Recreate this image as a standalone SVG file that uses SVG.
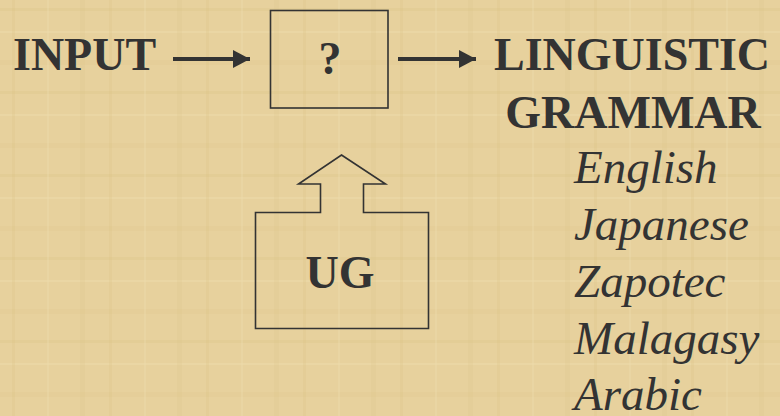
<svg xmlns="http://www.w3.org/2000/svg" width="780" height="416" viewBox="0 0 780 416">
<defs>
<style>
.t{font-family:"Liberation Serif","Times New Roman",serif;fill:#333333;font-size:46px}
.b{font-weight:bold}
.i{font-style:italic;font-size:47px}
.box{fill:none;stroke:#333333;stroke-width:1.6}
.con{stroke:#333333;stroke-width:4;fill:none}
</style>
<marker id="ah" markerUnits="userSpaceOnUse" markerWidth="20" markerHeight="20" refX="17" refY="9" orient="auto">
<path d="M0,0 L17,9 L0,18 Z" fill="#333333"/>
</marker>
<pattern id="pap" width="97" height="83" patternUnits="userSpaceOnUse">
<rect width="97" height="83" fill="#e7d19d"/>
<rect x="0" y="8" width="97" height="3" fill="#d9bf80" opacity="0.25"/>
<rect x="0" y="31" width="97" height="2" fill="#f0dfb2" opacity="0.35"/>
<rect x="0" y="60" width="97" height="5" fill="#dcc385" opacity="0.2"/>
<rect x="12" y="0" width="3" height="83" fill="#d8bd7e" opacity="0.2"/>
<rect x="47" y="0" width="2" height="83" fill="#f0dfb2" opacity="0.3"/>
<rect x="80" y="0" width="5" height="83" fill="#dbc183" opacity="0.18"/>
</pattern>
</defs>
<rect width="780" height="416" fill="url(#pap)"/>
<g id="input"><text class="t b" x="13" y="70">INPUT</text></g>
<g id="unknown"><rect class="box" x="270.5" y="10.5" width="117.5" height="97.5"/><text class="t b" x="330" y="74" text-anchor="middle">?</text></g>
<g id="grammar">
<text class="t b" x="632" y="70" text-anchor="middle">LINGUISTIC</text>
<text class="t b" x="633" y="128" text-anchor="middle">GRAMMAR</text>
<text class="t i" x="574" y="183">English</text>
<text class="t i" x="574" y="240">Japanese</text>
<text class="t i" x="574" y="297">Zapotec</text>
<text class="t i" x="574" y="354">Malagasy</text>
<text class="t i" x="574" y="410">Arabic</text>
</g>
<g id="ug">
<path class="box" d="M341.5,155 L385.5,184 L363.5,184 L363.5,212.5 L428.5,212.5 L428.5,328.5 L255.5,328.5 L255.5,212.5 L320.5,212.5 L320.5,184 L298.5,184 Z"/>
<text class="t b" x="340" y="288" text-anchor="middle">UG</text>
</g>
<g id="connectors">
<line class="con" x1="173" y1="59" x2="250" y2="59" marker-end="url(#ah)"/>
<line class="con" x1="398" y1="59" x2="476" y2="59" marker-end="url(#ah)"/>
</g>
</svg>
